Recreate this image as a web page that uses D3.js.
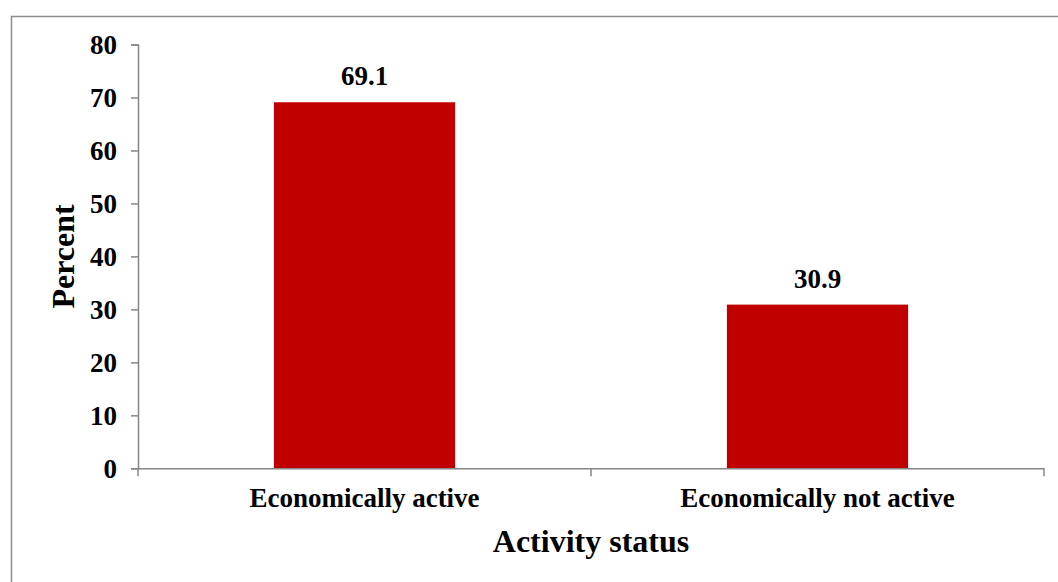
<!DOCTYPE html>
<html><head><meta charset="utf-8">
<script src="https://cdn.jsdelivr.net/npm/d3@7"></script>
<style>body{margin:0;background:#fff}svg{display:block}text{font-family:"Liberation Serif","Times New Roman",serif;font-weight:bold;fill:#000}</style>
</head><body>
<svg id="c" width="1058" height="582"></svg>
<script>
const categories = ["Economically active", "Economically not active"];
const values = [69.1, 30.9];
const yTicks = [0, 10, 20, 30, 40, 50, 60, 70, 80];
const yTitle = "Percent";
const xTitle = "Activity status";

const svg = d3.select("#c");
const m = {left: 138, right: 1044, top: 44.5, bottom: 468.3};

svg.append("rect").attr("x", 11.5).attr("y", 16.5).attr("width", 1100).attr("height", 700)
  .attr("fill", "none").attr("stroke", "#8c8c8c").attr("stroke-width", 1.5);

const x = d3.scaleBand().domain(categories).range([m.left, m.right]).paddingInner(0.6).paddingOuter(0.3);
const y = d3.scaleLinear().domain([0, 80]).range([m.bottom, m.top]);
const axisColor = "#868686";

// bars
svg.selectAll("rect.bar").data(values).enter().append("rect").attr("class", "bar")
  .attr("x", (d, i) => x(categories[i])).attr("width", x.bandwidth())
  .attr("y", d => y(d)).attr("height", d => y(0) - y(d)).attr("fill", "#C00000");

// y axis
const ya = svg.append("g").attr("transform", `translate(${m.left},0)`)
  .call(d3.axisLeft(y).tickValues(yTicks).tickSize(7).tickPadding(14).tickFormat(d3.format("d")));
ya.select(".domain").attr("stroke", axisColor).attr("stroke-width", 1.5);
ya.selectAll(".tick line").attr("stroke", axisColor).attr("stroke-width", 1.5);
ya.selectAll(".tick text").attr("font-size", 27).attr("font-family", "Liberation Serif").attr("font-weight", "bold").attr("fill", "#000").attr("dy", "0.35em");

// x axis
const xa = svg.append("g").attr("transform", `translate(0,${m.bottom})`)
  .call(d3.axisBottom(x).tickSize(0).tickPadding(0));
xa.select(".domain").attr("stroke", axisColor).attr("stroke-width", 1.5);
xa.selectAll(".tick text").attr("font-size", 27).attr("font-family", "Liberation Serif").attr("font-weight", "bold").attr("fill", "#000")
  .attr("dy", 0).attr("y", 38.5);
// band boundary ticks
const bounds = [m.left, ...categories.slice(1).map(c => x(c) - x.step() * x.paddingInner() / 2), m.right];
xa.selectAll("line.bt").data(bounds).enter().append("line").attr("class", "bt")
  .attr("x1", d => d).attr("x2", d => d).attr("y1", 0).attr("y2", 8)
  .attr("stroke", axisColor).attr("stroke-width", 1.5);

// data labels
svg.selectAll("text.lab").data(values).enter().append("text").attr("class", "lab")
  .attr("x", (d, i) => x(categories[i]) + x.bandwidth() / 2).attr("y", d => y(d) - 17)
  .attr("text-anchor", "middle").attr("font-size", 27).text(d => d.toFixed(1));

// titles
svg.append("text").attr("transform", `translate(73.5,${(m.top + m.bottom) / 2}) rotate(-90)`)
  .attr("text-anchor", "middle").attr("font-size", 32).text(yTitle);
svg.append("text").attr("x", (m.left + m.right) / 2).attr("y", 552)
  .attr("text-anchor", "middle").attr("font-size", 32).text(xTitle);
</script>
</body></html>
